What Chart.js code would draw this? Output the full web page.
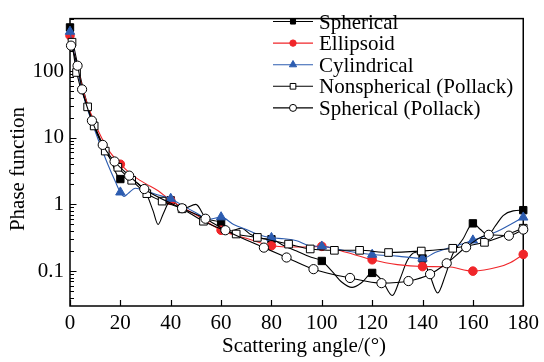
<!DOCTYPE html>
<html>
<head>
<meta charset="utf-8">
<script src="https://cdn.jsdelivr.net/npm/chart.js@4.4.1/dist/chart.umd.min.js"></script>
<style>
  html, body { margin: 0; padding: 0; background: #fff; }
  canvas { display: block; }
</style>
</head>
<body>
<canvas id="chart" width="544" height="362"></canvas>
<script>
// Phase function versus scattering angle for several particle-shape models.

// Spherical model (dense curve, markers every 20 degrees)
const SPH_ANGLE = [0, 2, 4, 6, 8, 10, 13, 16, 20, 23, 26, 30, 33, 35, 37, 40, 45, 50, 54, 60,
  64, 68, 72, 76, 80, 85, 90, 95, 100, 104, 108, 112, 116, 120, 124, 128, 131, 134, 137, 140,
  143, 146, 149, 152, 156, 160, 163, 166, 169, 172, 176, 180];
const SPH_VALUE = [450, 190, 85, 42, 24, 14.5, 8, 4.8, 2.4, 2.65, 2.2, 1.55, 0.8, 0.5, 0.72, 1.15, 0.86, 1.0, 0.62, 0.54,
  0.4, 0.44, 0.35, 0.31, 0.3, 0.24, 0.2, 0.165, 0.142, 0.1, 0.068, 0.057, 0.068, 0.094, 0.072, 0.043, 0.075, 0.145, 0.19, 0.155,
  0.085, 0.047, 0.085, 0.18, 0.3, 0.52, 0.42, 0.35, 0.48, 0.68, 0.8, 0.82];

// Ellipsoid model
const ELL_ANGLE = [0, 3, 6, 10, 15, 20, 25, 30, 35, 40, 50, 60, 70, 80, 90, 100, 110, 120, 130, 140, 150, 160, 170, 175, 180];
const ELL_VALUE = [340, 110, 40, 16, 6.8, 4.0, 2.7, 2.05, 1.6, 1.15, 0.7, 0.41, 0.31, 0.24, 0.23, 0.235, 0.19, 0.148, 0.125, 0.117, 0.116, 0.1, 0.115, 0.135, 0.178];

// Cylindrical model
const CYL_ANGLE = [0, 3, 6, 10, 13, 15, 18, 20, 21.5, 23, 26, 30, 35, 40, 45, 50, 55, 60, 65, 70, 75, 80, 85, 90, 95, 100,
  110, 120, 130, 140, 145, 150, 155, 160, 170, 180];
const CYL_VALUE = [390, 100, 35, 12.5, 6.2, 4.0, 2.2, 1.52, 1.32, 1.45, 1.75, 1.6, 1.38, 1.22, 0.95, 0.75, 0.6, 0.645, 0.5, 0.42, 0.35, 0.316, 0.305, 0.285, 0.24, 0.235,
  0.2, 0.177, 0.168, 0.155, 0.19, 0.22, 0.25, 0.29, 0.4, 0.64];

// Nonspherical particles (Pollack)
const NSP_ANGLE = [0.8, 2.6, 7, 9.6, 14, 19, 24.5, 30.5, 36.6, 44.5, 53, 66, 74.4, 86.8, 95.4, 105, 115, 126.5, 139.5, 152, 164.6, 180];
const NSP_VALUE = [270, 95, 29, 15, 6.3, 3.6, 2.3, 1.45, 1.12, 0.86, 0.56, 0.36, 0.32, 0.254, 0.215, 0.205, 0.205, 0.19, 0.2, 0.22, 0.27, 0.44];

// Spherical particles (Pollack)
const PSP_ANGLE = [0.4, 3, 4.8, 8.7, 13, 17.7, 23.5, 29.5, 44.5, 53.8, 61.7, 77, 86, 96.7, 111.2, 123.7, 134.4, 143, 149.6, 157.3, 166.3, 174.3, 180];
const PSP_VALUE = [240, 120, 53, 18, 7.8, 4.4, 2.7, 1.7, 0.875, 0.61, 0.41, 0.225, 0.16, 0.107, 0.079, 0.066, 0.071, 0.09, 0.131, 0.228, 0.35, 0.34, 0.42];

// Angles at which the model curves carry a marker
const MODEL_MARKER_ANGLES = [0, 20, 40, 60, 80, 100, 120, 140, 160, 180];

const SERIES_NAMES = ['Spherical', 'Ellipsoid', 'Cylindrical', 'Nonspherical (Pollack)', 'Spherical (Pollack)'];

const X_TICKS = [0, 20, 40, 60, 80, 100, 120, 140, 160, 180];
const Y_TICKS = [0.1, 1, 10, 100];
const Y_TICK_LABELS = ['0.1', '1', '10', '100'];

const X_TITLE = 'Scattering angle/(\u00B0)';
const Y_TITLE = 'Phase function';

// ---- styling ----
const FONT_FAMILY = '"Liberation Serif", "Times New Roman", Times, serif';
const RED = '#f0262a';
const BLUE = '#2c5cb0';

const STYLES = [
  { color: '#000', shape: 'rect', fill: '#000', radius: 5.2, legendRadius: 3.6 },
  { color: RED, shape: 'circle', fill: RED, radius: 4.3, legendRadius: 3.2 },
  { color: BLUE, shape: 'triangle', fill: BLUE, radius: 5.4, legendRadius: 4.2 },
  { color: '#000', shape: 'rect', fill: '#fff', radius: 5.4, legendRadius: 4.0 },
  { color: '#000', shape: 'circle', fill: '#fff', radius: 4.6, legendRadius: 3.5 }
];

function buildPoints(angles, values, markerAngles) {
  return angles.map((a, i) => ({
    x: a,
    y: values[i],
    marker: markerAngles ? markerAngles.includes(a) : true
  }));
}

const SERIES_DATA = [
  buildPoints(SPH_ANGLE, SPH_VALUE, MODEL_MARKER_ANGLES),
  buildPoints(ELL_ANGLE, ELL_VALUE, MODEL_MARKER_ANGLES),
  buildPoints(CYL_ANGLE, CYL_VALUE, MODEL_MARKER_ANGLES),
  buildPoints(NSP_ANGLE, NSP_VALUE, null),
  buildPoints(PSP_ANGLE, PSP_VALUE, null)
];

const datasets = SERIES_DATA.map((pts, i) => {
  const st = STYLES[i];
  return {
    label: SERIES_NAMES[i],
    data: pts,
    borderColor: st.color,
    borderWidth: 1.1,
    backgroundColor: st.fill,
    pointStyle: st.shape,
    pointBackgroundColor: st.fill,
    pointBorderColor: st.color,
    pointBorderWidth: 1,
    pointRadius: (c) => (c.raw && c.raw.marker ? st.radius : 0),
    pointHoverRadius: 0,
    cubicInterpolationMode: 'monotone',
    fill: false,
    clip: false,
    order: SERIES_NAMES.length - i
  };
});

function drawMarker(ctx, shape, x, y, r, fill, stroke) {
  ctx.beginPath();
  if (shape === 'rect') {
    const h = r * Math.SQRT1_2;
    ctx.rect(x - h, y - h, 2 * h, 2 * h);
  } else if (shape === 'triangle') {
    ctx.moveTo(x, y - r);
    ctx.lineTo(x + r * Math.sin(2 * Math.PI / 3), y - r * Math.cos(2 * Math.PI / 3));
    ctx.lineTo(x + r * Math.sin(4 * Math.PI / 3), y - r * Math.cos(4 * Math.PI / 3));
    ctx.closePath();
  } else {
    ctx.arc(x, y, r, 0, Math.PI * 2);
  }
  ctx.fillStyle = fill;
  ctx.fill();
  ctx.lineWidth = 1;
  ctx.strokeStyle = stroke;
  ctx.stroke();
}

// Frame, inward tick marks (with log minor ticks) and axis titles
const axesFrame = {
  id: 'axesFrame',
  beforeDatasetsDraw(chart) {
    const { ctx, chartArea: a, scales: { x, y } } = chart;
    ctx.save();
    ctx.strokeStyle = '#000';
    ctx.lineWidth = 1.5;
    ctx.strokeRect(a.left, a.top, a.right - a.left, a.bottom - a.top);

    ctx.lineWidth = 1.2;
    ctx.beginPath();
    X_TICKS.forEach(v => {
      const px = Math.round(x.getPixelForValue(v)) + 0.5;
      ctx.moveTo(px, a.bottom);
      ctx.lineTo(px, a.bottom - 6);
    });
    for (let e = -2; e <= 2; e++) {
      for (let k = 1; k <= 9; k++) {
        const v = k * Math.pow(10, e);
        if (v < y.min * 1.0001 || v > y.max) continue;
        const py = Math.round(y.getPixelForValue(v)) + 0.5;
        ctx.moveTo(a.left, py);
        ctx.lineTo(a.left + (k === 1 ? 6.5 : 4), py);
      }
    }
    ctx.stroke();

    ctx.fillStyle = '#000';
    ctx.font = '21px ' + FONT_FAMILY;
    ctx.textAlign = 'center';
    ctx.textBaseline = 'alphabetic';
    ctx.fillText(X_TITLE, 304, 352);

    ctx.translate(23.5, 169);
    ctx.rotate(-Math.PI / 2);
    ctx.fillText(Y_TITLE, 0, 0);
    ctx.restore();
  }
};

// Legend with a line sample through each marker
const lineLegend = {
  id: 'lineLegend',
  afterDraw(chart) {
    const { ctx } = chart;
    ctx.save();
    ctx.font = '21px ' + FONT_FAMILY;
    ctx.textAlign = 'left';
    ctx.textBaseline = 'alphabetic';
    SERIES_NAMES.forEach((name, i) => {
      const st = STYLES[i];
      const yRow = 21.5 + i * 21.6;
      ctx.beginPath();
      ctx.moveTo(273, yRow);
      ctx.lineTo(313, yRow);
      ctx.lineWidth = 1.1;
      ctx.strokeStyle = st.color;
      ctx.stroke();
      drawMarker(ctx, st.shape, 293, yRow, st.legendRadius, st.fill, st.color);
      ctx.fillStyle = '#000';
      ctx.fillText(name, 319, yRow + 7);
    });
    ctx.restore();
  }
};

Chart.defaults.font.family = FONT_FAMILY;
Chart.defaults.color = '#000';

new Chart(document.getElementById('chart'), {
  type: 'line',
  data: { datasets },
  options: {
    responsive: false,
    animation: false,
    devicePixelRatio: 1,
    events: [],
    layout: { padding: { top: 5, right: 18.5, left: 0, bottom: 0 } },
    scales: {
      x: {
        type: 'linear',
        min: 0,
        max: 180,
        afterBuildTicks: (s) => { s.ticks = X_TICKS.map(v => ({ value: v })); },
        ticks: { font: { size: 21 }, color: '#000', padding: 5, autoSkip: false, maxRotation: 0 },
        grid: { display: false, drawTicks: false },
        border: { display: false },
        afterFit: (s) => { s.height = 56; }
      },
      y: {
        type: 'logarithmic',
        min: 0.03,
        max: 610,
        afterBuildTicks: (s) => { s.ticks = Y_TICKS.map(v => ({ value: v })); },
        ticks: {
          font: { size: 21 },
          color: '#000',
          padding: 6,
          autoSkip: false,
          callback: (v) => Y_TICK_LABELS[Y_TICKS.indexOf(v)] ?? ''
        },
        grid: { display: false, drawTicks: false },
        border: { display: false },
        afterFit: (s) => { s.width = 70; }
      }
    },
    plugins: {
      legend: { display: false },
      tooltip: { enabled: false }
    }
  },
  plugins: [axesFrame, lineLegend]
});
</script>
</body>
</html>
